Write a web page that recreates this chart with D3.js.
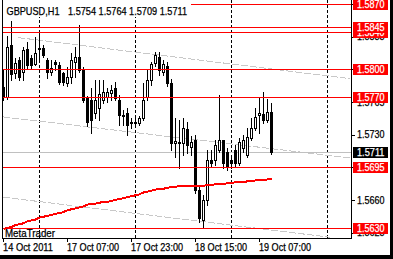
<!DOCTYPE html>
<html>
<head>
<meta charset="utf-8">
<script src="https://cdn.jsdelivr.net/npm/d3@7/dist/d3.min.js"></script>
<style>
  body { margin: 0; background: #fff; }
  svg { display: block; }
  text { font-family: "Liberation Sans", Arial, sans-serif; font-size: 10.5px; stroke: #000; stroke-width: 0.25px; }
  text.inv { stroke: #fff; }
</style>
</head>
<body>
<div id="chart"></div>
<script>
// GBPUSD H1 bars, 14 Oct 15:00 -> 19 Oct 10:00
const open  = [1.5781,1.5770,1.5826,1.5796,1.5810,1.5797,1.5822,1.5812,1.5806,1.5823,1.5823,1.5810,1.5797,1.5808,1.5805,1.5796,1.5785,1.5792,1.5808,1.5813,1.5799,1.5769,1.5767,1.5753,1.5759,1.5767,1.5770,1.5775,1.5780,1.5767,1.5751,1.5753,1.5744,1.5742,1.5742,1.5748,1.5770,1.5789,1.5807,1.5813,1.5797,1.5804,1.5785,1.5721,1.5721,1.5721,1.5736,1.5717,1.5724,1.5671,1.5639,1.5660,1.5703,1.5703,1.5714,1.5724,1.5711,1.5703,1.5714,1.5700,1.5716,1.5708,1.5726,1.5737,1.5751,1.5752,1.5746,1.5754];
const high  = [1.5799,1.5836,1.5852,1.5812,1.5813,1.5824,1.5829,1.5815,1.5835,1.5839,1.5826,1.5812,1.5810,1.5810,1.5808,1.5797,1.5802,1.5817,1.5824,1.5847,1.5802,1.5771,1.5780,1.5789,1.5789,1.5789,1.5780,1.5783,1.5786,1.5772,1.5756,1.5759,1.5748,1.5748,1.5750,1.5785,1.5799,1.5808,1.5819,1.5819,1.5810,1.5808,1.5790,1.5748,1.5746,1.5748,1.5744,1.5729,1.5730,1.5676,1.5665,1.5714,1.5714,1.5724,1.5772,1.5724,1.5716,1.5708,1.5719,1.5726,1.5730,1.5737,1.5748,1.5759,1.5769,1.5776,1.5768,1.5764];
const low   = [1.5767,1.5768,1.5789,1.5791,1.5789,1.5789,1.5801,1.5801,1.5805,1.5810,1.5813,1.5791,1.5794,1.5799,1.5784,1.5783,1.5782,1.5785,1.5792,1.5797,1.5765,1.5739,1.5732,1.5748,1.5746,1.5764,1.5765,1.5767,1.5767,1.5740,1.5740,1.5730,1.5737,1.5739,1.5740,1.5746,1.5767,1.5783,1.5804,1.5794,1.5794,1.5782,1.5714,1.5706,1.5694,1.5708,1.5710,1.5708,1.5667,1.5636,1.5630,1.5655,1.5695,1.5697,1.5711,1.5694,1.5692,1.5694,1.5696,1.5697,1.5711,1.5706,1.5724,1.5735,1.5732,1.5742,1.5744,1.5709];
const close = [1.5770,1.5824,1.5795,1.5807,1.5792,1.5821,1.5805,1.5805,1.5817,1.5822,1.5815,1.5797,1.5801,1.5806,1.5786,1.5786,1.5792,1.5810,1.5813,1.5799,1.5767,1.5744,1.5746,1.5767,1.5774,1.5776,1.5776,1.5778,1.5769,1.5751,1.5750,1.5740,1.5742,1.5744,1.5748,1.5767,1.5789,1.5806,1.5815,1.5799,1.5806,1.5785,1.5721,1.5723,1.5722,1.5737,1.5719,1.5722,1.5671,1.5641,1.5660,1.5703,1.5700,1.5719,1.5724,1.5700,1.5695,1.5700,1.5700,1.5722,1.5724,1.5727,1.5737,1.5749,1.5753,1.5746,1.5754,1.5711];
// moving average (red)
const ma = [1.5629,1.5630,1.5631,1.5633,1.5634,1.5635,1.5637,1.5638,1.5639,1.5641,1.5642,1.5643,1.5644,1.5645,1.5646,1.5647,1.5649,1.5650,1.5651,1.5652,1.5653,1.5655,1.5656,1.5656,1.5657,1.5658,1.5658,1.5659,1.5660,1.5661,1.5662,1.5663,1.5664,1.5665,1.5666,1.5668,1.5669,1.5670,1.5671,1.5672,1.5672,1.5673,1.5674,1.5674,1.5675,1.5675,1.5675,1.5675,1.5675,1.5675,1.5675,1.5676,1.5676,1.5677,1.5677,1.5677,1.5678,1.5678,1.5679,1.5679,1.5679,1.5680,1.5680,1.5681,1.5681,1.5681,1.5682,1.5682];

const symbol = "GBPUSD,H1";
const lastBar = "1.5754 1.5764 1.5709 1.5711";
const lastPrice = 1.5711;

// horizontal lines drawn on the chart
const levels = [1.5630, 1.5695, 1.5770, 1.5800, 1.5840, 1.5845, 1.5870];
// gray trend lines: [bar, price] pairs
const trendLines = [
  [[3.75, 1.5834], [86.75, 1.5790]],
  [[0, 1.5749], [86.75, 1.5705]],
  [[0, 1.5663], [81.75, 1.5620]]
];
const priceTicks = [1.5625, 1.5660, 1.5695, 1.5730, 1.5765, 1.5800, 1.5835, 1.5870];
const timeTickBars = [0, 16, 32, 48, 64];
const timeTickLabels = ["14 Oct 2011", "17 Oct 07:00", "17 Oct 23:00", "18 Oct 15:00", "19 Oct 07:00"];
const daySeparatorBars = [9, 33, 57, 81];

const width = 393, height = 259;
const plot = { left: 2, right: 351, top: 0, bottom: 238 };

const x = d3.scaleLinear().domain([0, 67]).range([3, 271]);
const y = d3.scaleLinear().domain([1.5625, 1.5870]).range([232.6, 4.0]);
const px = i => Math.round(x(i)) + 0.5;
const py = p => Math.round(y(p)) + 0.5;

// narrow the text so it looks like the terminal's bitmap font
function narrow(sel, len) {
  return sel.attr('textLength', len).attr('lengthAdjust', 'spacingAndGlyphs');
}

const svg = d3.select('#chart').append('svg')
  .attr('width', width)
  .attr('height', height)
  .style('shape-rendering', 'crispEdges');

svg.append('rect').attr('width', width).attr('height', height).attr('fill', '#fff');

svg.append('clipPath').attr('id', 'clip')
  .append('rect')
  .attr('x', plot.left + 1).attr('y', plot.top)
  .attr('width', plot.right - plot.left - 1).attr('height', plot.bottom - plot.top);

const g = svg.append('g').attr('clip-path', 'url(#clip)');

// day separators
g.selectAll('.sep').data(daySeparatorBars).enter().append('line')
  .attr('x1', d => px(d)).attr('x2', d => px(d))
  .attr('y1', plot.top).attr('y2', plot.bottom)
  .attr('stroke', '#000').attr('stroke-dasharray', '3,2');

// gray trend lines
g.selectAll('.trend').data(trendLines).enter().append('line')
  .attr('x1', d => x(d[0][0])).attr('y1', d => y(d[0][1]))
  .attr('x2', d => x(d[1][0])).attr('y2', d => y(d[1][1]))
  .attr('stroke', '#c8c8c8').attr('stroke-dasharray', '7,2');

// bid line
g.append('line')
  .attr('x1', plot.left).attr('x2', plot.right)
  .attr('y1', py(lastPrice)).attr('y2', py(lastPrice))
  .attr('stroke', '#c0c0c0');

// candles
const bars = d3.range(open.length);
const candle = g.selectAll('.candle').data(bars).enter().append('g');

candle.append('line')
  .attr('x1', i => px(i)).attr('x2', i => px(i))
  .attr('y1', i => Math.round(y(high[i]))).attr('y2', i => Math.round(y(low[i])) + 1)
  .attr('stroke', '#000');

candle.append('rect')
  .each(function (i) {
    const top = Math.round(y(Math.max(open[i], close[i])));
    const bot = Math.round(y(Math.min(open[i], close[i])));
    const el = d3.select(this);
    if (close[i] < open[i] || bot - top < 2) {
      el.attr('x', px(i) - 1.5).attr('y', top)
        .attr('width', 3).attr('height', Math.max(1, bot - top + 1))
        .attr('fill', '#000');
    } else {
      el.attr('x', px(i) - 1).attr('y', top + 0.5)
        .attr('width', 2).attr('height', bot - top)
        .attr('fill', '#fff').attr('stroke', '#000');
    }
  });

// horizontal levels
g.selectAll('.level').data(levels).enter().append('line')
  .attr('x1', plot.left).attr('x2', plot.right)
  .attr('y1', d => py(d)).attr('y2', d => py(d))
  .attr('stroke', '#ff0000');

// moving average
g.append('path')
  .datum(bars)
  .attr('d', d3.line().x(i => x(i) + 0.5).y(i => y(ma[i])))
  .attr('fill', 'none')
  .attr('stroke', '#ff0000')
  .attr('stroke-width', 2);

// header box hides what is under it
g.append('rect')
  .attr('x', plot.left + 1).attr('y', 0)
  .attr('width', 188).attr('height', 17)
  .attr('fill', '#fff');

// frame
svg.append('path')
  .attr('d', `M${plot.left + 0.5},${plot.top}V${plot.bottom + 0.5}H${plot.right + 0.5}V${plot.top}`)
  .attr('fill', 'none').attr('stroke', '#000');

// price axis
svg.selectAll('.ptick').data(priceTicks).enter().append('line')
  .attr('x1', plot.right + 1).attr('x2', plot.right + 4)
  .attr('y1', d => py(d)).attr('y2', d => py(d))
  .attr('stroke', '#000');

narrow(svg.selectAll('.plabel').data(priceTicks).enter().append('text')
  .attr('x', 357).attr('y', d => y(d) + 3.8)
  .text(d => d.toFixed(4)), 27.5);

// level labels
const lab = svg.selectAll('.llabel').data(levels.slice().sort((a, b) => a - b)).enter().append('g');
lab.append('rect')
  .attr('x', 353).attr('y', d => Math.round(y(d)) - 5)
  .attr('width', 35).attr('height', 11)
  .attr('fill', '#ff0000');
narrow(lab.append('text')
  .attr('class', 'inv')
  .attr('x', 357).attr('y', d => y(d) + 3.8)
  .attr('fill', '#fff')
  .text(d => d.toFixed(4)), 27.5);

const bid = svg.append('g');
bid.append('rect')
  .attr('x', 353).attr('y', Math.round(y(lastPrice)) - 5)
  .attr('width', 35).attr('height', 11)
  .attr('fill', '#000');
narrow(bid.append('text')
  .attr('class', 'inv')
  .attr('x', 357).attr('y', y(lastPrice) + 3.8)
  .attr('fill', '#fff')
  .text(lastPrice.toFixed(4)), 27.5);

// time axis
svg.selectAll('.ttick').data(timeTickBars).enter().append('line')
  .attr('x1', d => px(d)).attr('x2', d => px(d))
  .attr('y1', plot.bottom + 1).attr('y2', plot.bottom + 4)
  .attr('stroke', '#000');

svg.selectAll('.tlabel').data(timeTickBars).enter().append('text')
  .attr('x', d => px(d) - 0.5).attr('y', 250.5)
  .attr('textLength', (d, i) => i === 0 ? 50 : 52)
  .attr('lengthAdjust', 'spacingAndGlyphs')
  .text((d, i) => timeTickLabels[i]);

// header and watermark
narrow(svg.append('text').attr('x', 6.5).attr('y', 15).text(symbol), 53);
narrow(svg.append('text').attr('x', 68).attr('y', 15).text(lastBar), 119);
narrow(svg.append('text').attr('x', 5).attr('y', 236.5).text('MetaTrader'), 50);

// window border
svg.append('rect').attr('x', 390).attr('y', 0).attr('width', 3).attr('height', height).attr('fill', '#000');
svg.append('rect').attr('x', 0).attr('y', 255).attr('width', width).attr('height', 4).attr('fill', '#000');
</script>
</body>
</html>
